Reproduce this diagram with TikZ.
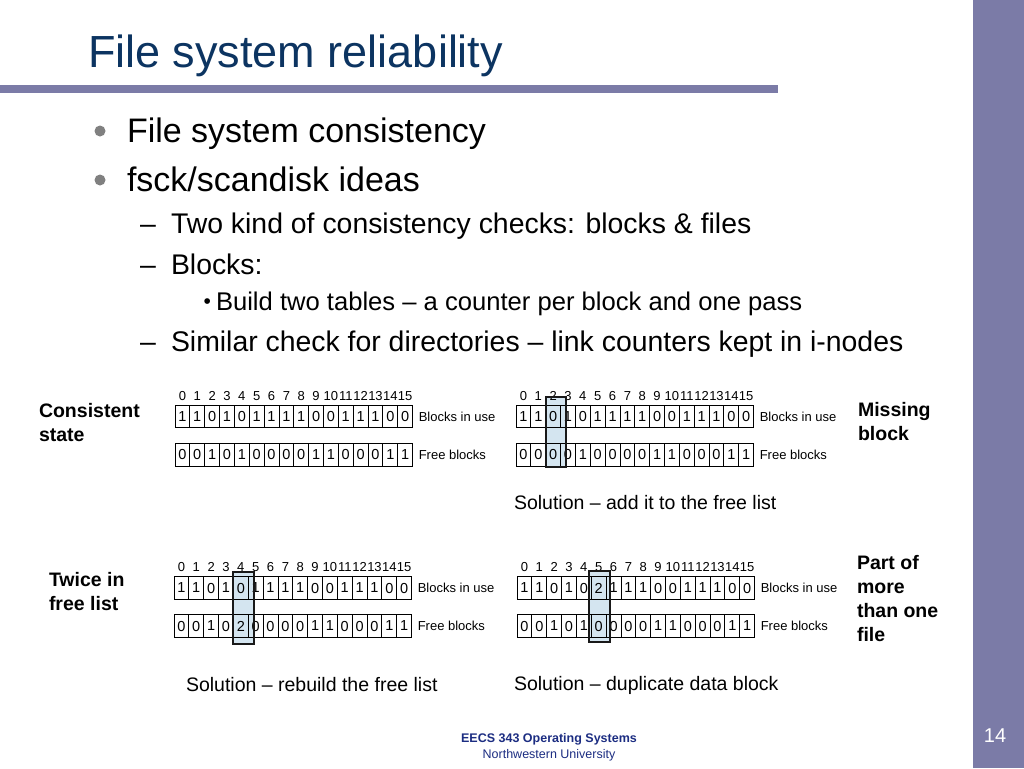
\documentclass[tikz,border=0pt]{standalone}
\usepackage{fontspec}
\setmainfont{Liberation Sans}
\definecolor{barcol}{RGB}{123,123,167}
\definecolor{titlecol}{RGB}{12,52,97}
\definecolor{footcol}{RGB}{28,45,130}
\definecolor{hlblue}{RGB}{212,229,240}
\definecolor{bulletgray}{RGB}{128,128,128}
\tikzset{
  txt/.style={anchor=base west, inner sep=0, outer sep=0},
  cell/.style={draw, line width=0.9pt, minimum width=14.85pt, minimum height=22.5pt, inner sep=0, font=\fontsize{14.5}{14.5}\selectfont},
  idx/.style={inner sep=0, font=\fontsize{13}{13}\selectfont},
  rowlab/.style={anchor=west, inner sep=0, font=\fontsize{13}{13}\selectfont},
  hlfill/.style={fill=hlblue, inner sep=0},
  hlline/.style={draw=black!90, line width=1.5pt},
  lab/.style={txt, font=\bfseries\fontsize{19.5}{24}\selectfont},
  sol/.style={txt, font=\fontsize{19.5}{24}\selectfont},
  lvlone/.style={txt, font=\fontsize{34}{40}\selectfont},
  lvltwo/.style={txt, font=\fontsize{28.4}{34}\selectfont},
  lvlthree/.style={txt, font=\fontsize{25.6}{30}\selectfont},
  bul/.style={circle, fill=bulletgray, minimum size=11pt, inner sep=0}
}
\newcommand\blocktable[7]{%
  \foreach \v [count=\i from 0] in {#6} {
    \node[cell] (#1u\i) at ({#2+14.85*\i+7.425},#4) {\v};
    \node[idx] (#1n\i) at ({#2+14.85*\i+7.425},#3) {\i};
  }
  \foreach \v [count=\i from 0] in {#7} {
    \node[cell] (#1f\i) at ({#2+14.85*\i+7.425},#5) {\v};
  }
  \node[rowlab] (#1lu) at ([xshift=5.5pt]#1u15.east) {Blocks in use};
  \node[rowlab] (#1lf) at ([xshift=5.5pt]#1f15.east) {Free blocks};
}
\begin{document}
\begin{tikzpicture}[x=1pt,y=-1pt]
\path[use as bounding box, fill=white] (0,0) rectangle (1024,768);
% decorations
\fill[barcol] (973,0) rectangle (1024,768);
\fill[barcol] (0,85) rectangle (778,93);
% title
\node[txt, text=titlecol, font=\fontsize{45}{50}\selectfont] (title) at (88,67) {File system reliability};
% bullets
\node[bul] (b1) at (100,131) {};
\node[lvlone] (t1) at (127,142) {File system consistency};
\node[bul] (b2) at (100,180) {};
\node[lvlone] (t2) at (127,191) {fsck/scandisk ideas};
\node[lvltwo] (d1) at (140,233) {–};
\node[lvltwo] (t3) at (171,233) {Two kind of consistency checks: blocks \& files};
\node[lvltwo] (d2) at (140,274) {–};
\node[lvltwo] (t4) at (171,274) {Blocks:};
\node[txt, font=\fontsize{21}{22}\selectfont] (d3) at (203.5,308.5) {•};
\node[lvlthree] (t5) at (216,310) {Build two tables – a counter per block and one pass};
\node[lvltwo] (d4) at (140,351) {–};
\node[lvltwo] (t6) at (171,351) {Similar check for directories – link counters kept in i-nodes};
% highlight backgrounds
\node[hlfill, minimum width=20pt, minimum height=70pt] (hb) at (556,432) {};
\node[hlfill, minimum width=21pt, minimum height=72pt] (hc) at (243.5,608) {};
\node[hlfill, minimum width=21pt, minimum height=71pt] (hd) at (599.5,606.5) {};
% tables
\blocktable{a}{175}{396}{416.5}{455}{1,1,0,1,0,1,1,1,1,0,0,1,1,1,0,0}{0,0,1,0,1,0,0,0,0,1,1,0,0,0,1,1}
\blocktable{b}{516}{396}{416.5}{455}{1,1,0,1,0,1,1,1,1,0,0,1,1,1,0,0}{0,0,0,0,1,0,0,0,0,1,1,0,0,0,1,1}
\blocktable{c}{174}{567}{588}{626}{1,1,0,1,0,1,1,1,1,0,0,1,1,1,0,0}{0,0,1,0,2,0,0,0,0,1,1,0,0,0,1,1}
\blocktable{d}{517}{567}{588}{626}{1,1,0,1,0,2,1,1,1,0,0,1,1,1,0,0}{0,0,1,0,1,0,0,0,0,1,1,0,0,0,1,1}
% highlight outlines
\draw[hlline] (hb.north west) rectangle (hb.south east);
\draw[hlline] (hc.north west) rectangle (hc.south east);
\draw[hlline] (hd.north west) rectangle (hd.south east);
% side labels
\node[lab] (l1a) at (39,417) {Consistent};
\node[lab] (l1b) at (39,441) {state};
\node[lab] (l2a) at (858,416) {Missing};
\node[lab] (l2b) at (858,440) {block};
\node[lab] (l3a) at (49,586) {Twice in};
\node[lab] (l3b) at (49,610) {free list};
\node[lab] (l4a) at (857,569) {Part of};
\node[lab] (l4b) at (857,593) {more};
\node[lab] (l4c) at (857,617) {than one};
\node[lab] (l4d) at (857,641) {file};
% solutions
\node[sol] (s2) at (514,509) {Solution – add it to the free list};
\node[sol] (s3) at (186,691) {Solution – rebuild the free list};
\node[sol] (s4) at (514,690) {Solution – duplicate data block};
% footer
\node[anchor=base, inner sep=0, text=footcol, font=\bfseries\fontsize{12.5}{14}\selectfont] (f1) at (549,742.5) {EECS 343 Operating Systems};
\node[anchor=base, inner sep=0, text=footcol, font=\fontsize{12.5}{14}\selectfont] (f2) at (549,758) {Northwestern University};
\node[anchor=base, inner sep=0, text=white, font=\fontsize{20}{22}\selectfont] (pg) at (995,742) {14};
\end{tikzpicture}
\end{document}
